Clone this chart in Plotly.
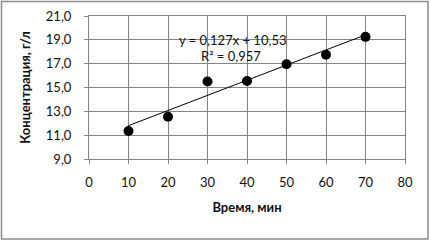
import numpy as np
import plotly.graph_objects as go

time_min = [10, 20, 30, 40, 50, 60, 70]
conc = [11.35, 12.55, 15.5, 15.55, 16.95, 17.75, 19.25]
slope = 0.127
intercept = 10.53
eq_text = "y = 0,127x + 10,53"
r2_text = "R² = 0,957"
x_title = "Время, мин"
y_title = "Концентрация, г/л"

trend_x = [min(time_min), max(time_min)]
trend_y = [slope * x + intercept for x in trend_x]

font = "Lato, Open Sans, sans-serif"
grid = "#858585"

fig = go.Figure()
fig.add_trace(go.Scatter(x=trend_x, y=trend_y, mode="lines",
                         line=dict(color="black", width=1), hoverinfo="skip"))
fig.add_trace(go.Scatter(x=time_min, y=conc, mode="markers",
                         marker=dict(color="black", size=10)))

W, H = 430, 241
L, R, T, B = 89, 25, 16, 82
pw, ph = W - L - R, H - T - B

fig.update_layout(
    width=W, height=H, showlegend=False,
    margin=dict(l=L, r=R, t=T, b=B, pad=0, autoexpand=False),
    paper_bgcolor="white", plot_bgcolor="white",
    separators=", ",
    font=dict(family=font, size=13, color="#111"),
    xaxis=dict(range=[0, 80], dtick=10, tick0=0, showgrid=True, gridcolor=grid,
               gridwidth=1, showline=True, linecolor=grid, mirror=True,
               ticks="outside", ticklen=4, tickcolor=grid, zeroline=False,
               ticklabelstandoff=7, automargin=False,
               title=dict(text="<b>" + x_title + "</b>", standoff=14,
                          font=dict(size=13, family=font))),
    yaxis=dict(range=[9, 21], dtick=2, tick0=9, tickformat=".1f", showgrid=True,
               gridcolor=grid, gridwidth=1, showline=True, linecolor=grid,
               mirror=True, ticks="outside", ticklen=4, tickcolor=grid,
               zeroline=False, ticklabelstandoff=10, automargin=False,
               title=dict(text="<b>" + y_title + "</b>", standoff=12,
                          font=dict(size=13, family=font))),
)

fig.add_annotation(x=(232 - L) / pw, y=1 - (40 - T) / ph, xref="paper", yref="paper",
                   text=eq_text, showarrow=False, font=dict(size=13, family=font),
                   xanchor="center", yanchor="middle")
fig.add_annotation(x=(231 - L) / pw, y=1 - (56 - T) / ph, xref="paper", yref="paper",
                   text=r2_text, showarrow=False, font=dict(size=13, family=font),
                   xanchor="center", yanchor="middle")

# outer chart border
fig.add_shape(type="rect", xref="paper", yref="paper",
              x0=(1.5 - L) / pw, x1=(428 - L) / pw,
              y0=1 - (239 - T) / ph, y1=1 - (1.5 - T) / ph,
              line=dict(color="#8c8c8c", width=1.5), layer="below")

fig.write_html("out.html", config={"displayModeBar": False},
               post_script="document.body.style.margin='0';document.body.style.overflow='hidden';")
